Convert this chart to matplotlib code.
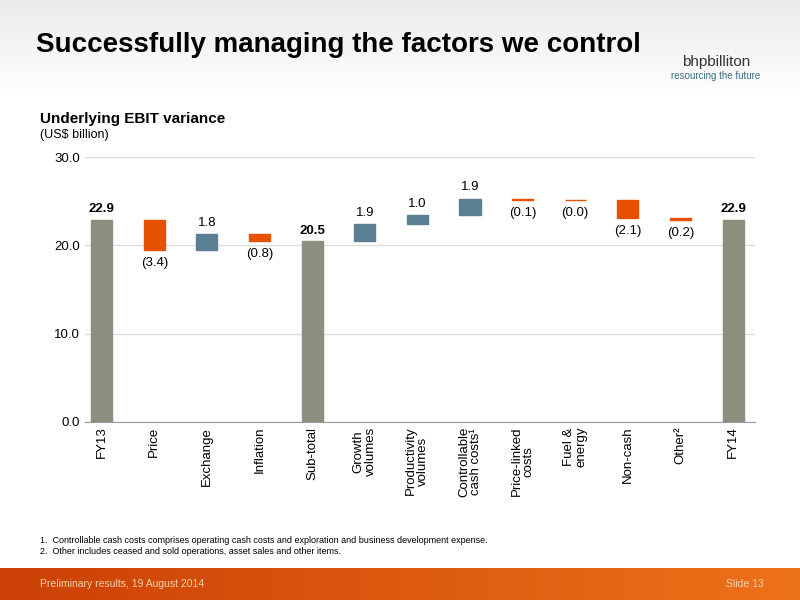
import matplotlib
matplotlib.use("Agg")
import matplotlib.pyplot as plt
import numpy as np

plt.rcParams['font.family'] = ['Liberation Sans', 'DejaVu Sans']

categories = ["FY13", "Price", "Exchange", "Inflation", "Sub-total", "Growth\nvolumes",
              "Productivity\nvolumes", "Controllable\ncash costs¹", "Price-linked\ncosts",
              "Fuel &\nenergy", "Non-cash", "Other²", "FY14"]
values = [22.9, -3.4, 1.8, -0.8, 20.5, 1.9, 1.0, 1.9, -0.1, -0.02, -2.1, -0.2, 22.9]
labels = ["22.9", "(3.4)", "1.8", "(0.8)", "20.5", "1.9", "1.0", "1.9", "(0.1)", "(0.0)", "(2.1)", "(0.2)", "22.9"]
is_total = [True, False, False, False, True, False, False, False, False, False, False, False, True]

fig = plt.figure(figsize=(8, 6), dpi=100)
bg = fig.add_axes([0, 0, 1, 1], zorder=-10)
bg.axis("off")
grad = np.ones((600, 2, 3))
for i in range(600):
    if i < 95:
        t = i / 95
        grad[i] = np.array([0.92, 0.92, 0.91]) * (1 - t) + np.array([1, 1, 1]) * t
bg.imshow(grad, aspect="auto", extent=[0, 1, 0, 1])
foot = np.zeros((2, 200, 3))
for j in range(200):
    t = j / 199
    foot[:, j] = np.array([0.80, 0.25, 0.02]) * (1 - t) + np.array([0.93, 0.45, 0.10]) * t
bg.imshow(foot, aspect="auto", extent=[0, 1, 0, 32 / 600])
bg.set_xlim(0, 1); bg.set_ylim(0, 1)

fig.text(0.045, 0.925, "Successfully managing the factors we control", fontsize=20,
         fontweight="bold", color="black", va="center")
fig.text(0.895, 0.897, "bhpbilliton", fontsize=11, color="#333333", ha="center", va="center")
fig.text(0.895, 0.873, "resourcing the future", fontsize=7, color="#3b6f80", ha="center", va="center")
fig.text(0.05, 0.795, "Underlying EBIT variance", fontsize=11, fontweight="bold")
fig.text(0.05, 0.770, "(US$ billion)", fontsize=9)
fig.text(0.05, 0.095, "1.  Controllable cash costs comprises operating cash costs and exploration and business development expense.", fontsize=6.5)
fig.text(0.05, 0.077, "2.  Other includes ceased and sold operations, asset sales and other items.", fontsize=6.5)
fig.text(0.05, 0.027, "Preliminary results, 19 August 2014", fontsize=7.5, color="#f6d0b0", va="center")
fig.text(0.955, 0.027, "Slide 13", fontsize=7.5, color="#f6d0b0", va="center", ha="right")

ax = fig.add_axes([0.106, 0.297, 0.838, 0.441])
x = np.arange(len(categories))
running = 0.0
for i, (v, tot) in enumerate(zip(values, is_total)):
    if tot:
        bottom, h, col = 0, v, "#8e8e7e"
        running = v
    else:
        bottom = running if v >= 0 else running + v
        h = abs(v)
        col = "#5b7f92" if v >= 0 else "#e65100"
        running += v
    ax.bar(i, h, bottom=bottom, width=0.4, color=col, edgecolor=col, linewidth=1.0, zorder=3)
    top = bottom + h
    if tot:
        ax.text(i, top + 0.5, labels[i], ha="center", va="bottom", fontsize=9.5, fontweight="bold")
    elif v >= 0:
        ax.text(i, top + 0.6, labels[i], ha="center", va="bottom", fontsize=9.5)
    else:
        ax.text(i, bottom - 0.8, labels[i], ha="center", va="top", fontsize=9.5)

ax.set_ylim(0, 30)
ax.set_xlim(-0.32, 12.42)
ax.set_yticks([0, 10, 20, 30])
ax.set_yticklabels(["0.0", "10.0", "20.0", "30.0"], fontsize=9.5)
ax.set_xticks(x)
ax.set_xticklabels(categories, rotation=90, fontsize=9.5, va="top", linespacing=1.0)
ax.yaxis.grid(True, color="#dddddd", linewidth=1, zorder=0)
ax.set_axisbelow(True)
for s in ["top", "right", "left"]:
    ax.spines[s].set_visible(False)
ax.spines["bottom"].set_color("#999999")
ax.tick_params(axis="both", length=0)
ax.patch.set_alpha(0)

fig.savefig("out.png", dpi=100)
